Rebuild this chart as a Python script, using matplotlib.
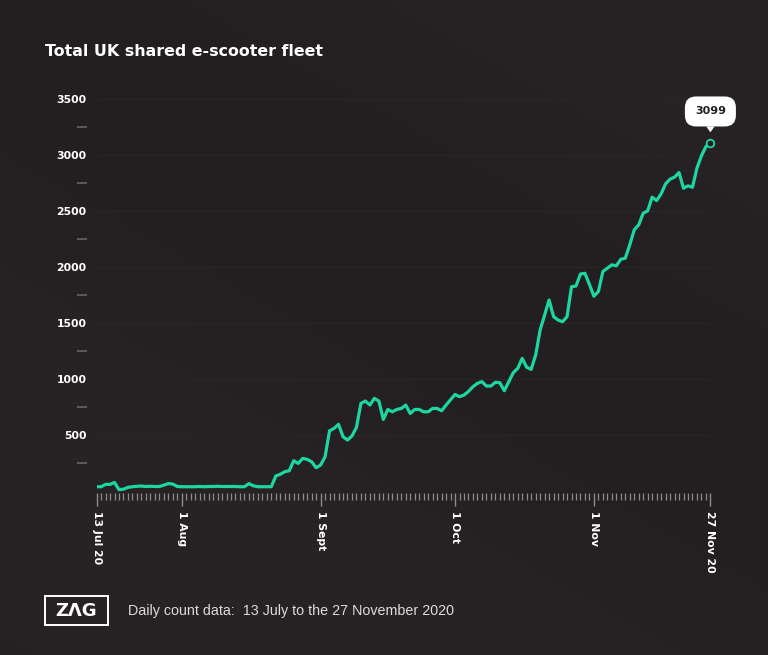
import numpy as np
import pandas as pd
import matplotlib
matplotlib.use("Agg")
import matplotlib.pyplot as plt
import matplotlib.dates as mdates
from matplotlib.patches import Rectangle

# ---------------- data ----------------
start_date = "2020-07-13"
end_date = "2020-11-27"
jul_values = [34, 34, 55, 55, 72, 8, 12, 28, 34, 38, 40, 36, 38, 36, 36, 48, 62, 58, 36]
aug_values = [34, 34, 34, 34, 36, 34, 36, 36, 38, 36, 36, 36, 36, 34, 34, 62, 42, 34, 34, 34,
              34, 130, 145, 168, 177, 266, 242, 287, 278, 257, 204]
sep_values = [228, 302, 534, 555, 591, 481, 451, 487, 564, 778, 799, 763, 823, 799, 635, 724,
              703, 724, 733, 763, 688, 724, 724, 703, 703, 733, 733, 712, 763, 810]
oct_values = [858, 838, 852, 885, 927, 957, 972, 933, 933, 966, 963, 891, 972, 1052, 1091, 1180,
              1100, 1082, 1210, 1433, 1567, 1701, 1552, 1522, 1507, 1552, 1820, 1826, 1933, 1939, 1840]
nov_values = [1735, 1777, 1955, 1985, 2015, 2006, 2065, 2074, 2193, 2327, 2372, 2476, 2497, 2619,
              2589, 2649, 2738, 2780, 2798, 2839, 2699, 2720, 2708, 2878, 2988, 3071, 3099]
major_tick_dates = ["2020-07-13", "2020-08-01", "2020-09-01", "2020-10-01", "2020-11-01", "2020-11-27"]
major_tick_labels = ["13 Jul 20", "1 Aug", "1 Sept", "1 Oct", "1 Nov", "27 Nov 20"]
y_major_ticks = [500, 1000, 1500, 2000, 2500, 3000, 3500]
y_minor_ticks = [250, 750, 1250, 1750, 2250, 2750, 3250]
title = "Total UK shared e-scooter fleet"
footer = "Daily count data:  13 July to the 27 November 2020"
logo = "Z\u039bG"

dates = pd.date_range(start_date, end_date, freq="D")
values = jul_values + aug_values + sep_values + oct_values + nov_values

# ---------------- style ----------------
BG = "#231f20"
LINE = "#1dd6a1"
TICK = "#8e8b8c"
W_PX, H_PX = 768, 655

def fx(px):
    return px / W_PX

def fy(py):
    return 1 - py / H_PX

fig = plt.figure(figsize=(7.68, 6.55), dpi=100, facecolor=BG)

# subtle diagonal background gradient
bg_ax = fig.add_axes([0, 0, 1, 1], zorder=-10)
gx, gy = np.meshgrid(np.linspace(0, 1, 256), np.linspace(0, 1, 256))
g = np.sin((gx * 0.8 + gy * 1.2) * np.pi * 1.3) * 0.5 + 0.5
base = np.array([35, 31, 32]) / 255
hi = np.array([40, 36, 37]) / 255
img = base[None, None, :] * (1 - g[..., None]) + hi[None, None, :] * g[..., None]
bg_ax.imshow(img, extent=[-0.01, 1.01, -0.01, 1.01], aspect="auto", origin="lower",
             interpolation="bilinear")
bg_ax.set_xlim(0, 1)
bg_ax.set_ylim(0, 1)
bg_ax.axis("off")

# main axes
x0_px, x1_px = 96.6, 710.4
ybot_px, ytop_px = 493.0, 87.3
ax = fig.add_axes([fx(x0_px), fy(ybot_px), fx(x1_px) - fx(x0_px), fy(ytop_px) - fy(ybot_px)])
ax.set_facecolor("none")

ax.plot(dates, values, color=LINE, lw=2.3, solid_joinstyle="round", solid_capstyle="round", zorder=3)
ax.plot(dates[-1:], values[-1:], marker="o", ms=5.5, mfc=BG, mec=LINE, mew=1.3,
        linestyle="none", zorder=4, clip_on=False)

ax.set_xlim(dates[0], dates[-1])
ax.set_ylim(-22, 3600)

for s in ax.spines.values():
    s.set_visible(False)

# x ticks
ax.xaxis.set_major_locator(matplotlib.ticker.FixedLocator(mdates.date2num(pd.to_datetime(major_tick_dates))))
ax.xaxis.set_major_formatter(matplotlib.ticker.FixedFormatter(major_tick_labels))
ax.xaxis.set_minor_locator(mdates.DayLocator())
ax.tick_params(axis="x", which="major", length=9, width=1, color=TICK, pad=4,
               labelsize=7.8, labelcolor="white", labelrotation=270)
ax.tick_params(axis="x", which="minor", length=5, width=0.9, color=TICK)
for lab in ax.get_xticklabels():
    lab.set_fontweight("bold")
    lab.set_va("top")
    lab.set_ha("center")

# y ticks
ax.spines["left"].set_position(("outward", 7.2))
ax.set_yticks(y_major_ticks)
ax.set_yticks(y_minor_ticks, minor=True)
ax.tick_params(axis="y", which="major", length=0, pad=0, labelsize=7.8, labelcolor="white")
ax.tick_params(axis="y", which="minor", length=7.2, width=1.1, color="#6e6a6b")
for lab in ax.get_yticklabels():
    lab.set_fontweight("bold")
ax.grid(axis="y", which="major", color="#2a2627", lw=0.8)
ax.set_axisbelow(True)

# annotation bubble
ax.annotate(f"{values[-1]}", xy=(dates[-1], values[-1]), xytext=(0, 23), textcoords="offset points",
            ha="center", va="center", fontsize=8, fontweight="bold", color=BG,
            bbox=dict(boxstyle="round,pad=0.9,rounding_size=1.0", fc="white", ec="none"),
            arrowprops=dict(arrowstyle="wedge,tail_width=0.75,shrink_factor=0.5", fc="white", ec="none",
                            shrinkA=0, shrinkB=8),
            zorder=5, annotation_clip=False)

# title
fig.text(fx(45), fy(56), title, fontsize=11.4, fontweight="bold", color="white",
         ha="left", va="baseline")

# logo
fig.patches.append(Rectangle((fx(45), fy(625)), fx(107.7) - fx(45), fy(595.7) - fy(625),
                             transform=fig.transFigure, fill=False, ec="white", lw=1.4))
fig.text(fx(76.4), fy(610.5), logo, fontsize=13, fontweight="bold", color="white",
         ha="center", va="center")

# footer
fig.text(fx(127.7), fy(615), footer, fontsize=10.3, color="#dcdcdc", family="Liberation Sans",
         ha="left", va="baseline")

fig.savefig("out.png", dpi=100, facecolor=BG)
